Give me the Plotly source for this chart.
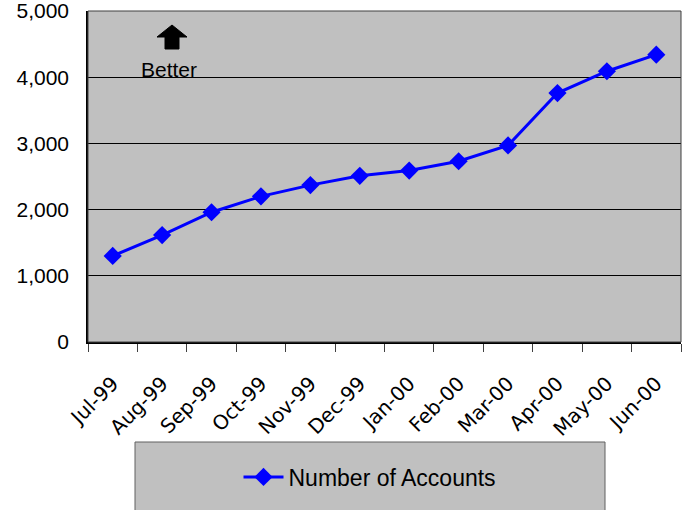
import plotly.graph_objects as go

months = ["Jul-99", "Aug-99", "Sep-99", "Oct-99", "Nov-99", "Dec-99",
          "Jan-00", "Feb-00", "Mar-00", "Apr-00", "May-00", "Jun-00"]
accounts = [1300, 1615, 1960, 2200, 2370, 2510, 2590, 2730, 2970, 3760, 4090, 4340]
y_ticks = [0, 1000, 2000, 3000, 4000, 5000]
y_labels = ["0", "1,000", "2,000", "3,000", "4,000", "5,000"]

W, H = 688, 510
L, R, T, B = 88, 681, 11, 342
pw, ph = R - L, B - T

def px(x):
    return (x - L) / pw

def py(y):
    return (B - y) / ph

narrow = "Liberation Sans Narrow, Arial Narrow, Liberation Sans, sans-serif"

fig = go.Figure()
fig.add_trace(go.Scatter(
    x=months, y=accounts, mode="lines+markers", name="Number of Accounts",
    line=dict(color="#0000FF", width=3),
    marker=dict(symbol="diamond", size=14, color="#0000FF"),
))

shapes = [
    # legend box
    dict(type="rect", xref="paper", yref="paper",
         x0=px(135), x1=px(605), y0=py(515), y1=py(442),
         fillcolor="#C0C0C0", line=dict(color="#606060", width=1), layer="below"),
    # arrow
    dict(type="path", xref="paper", yref="paper",
         path=(f"M {px(157)} {py(37)} L {px(172)} {py(25)} L {px(187)} {py(37)} "
               f"L {px(179)} {py(37)} L {px(179)} {py(49)} L {px(165)} {py(49)} "
               f"L {px(165)} {py(37)} Z"),
         fillcolor="black", line=dict(color="black", width=1)),
]

fig.update_layout(
    width=W, height=H,
    margin=dict(l=L, r=W - R, t=T, b=H - B, autoexpand=False),
    paper_bgcolor="white", plot_bgcolor="#C0C0C0",
    showlegend=True,
    legend=dict(x=px(370), y=py(477), xanchor="center", yanchor="middle",
                bgcolor="rgba(0,0,0,0)", font=dict(family=narrow, size=23, color="black"),
                itemwidth=40),
    shapes=shapes,
    annotations=[dict(text="Better", xref="paper", yref="paper",
                      x=px(169), y=py(69), xanchor="center", yanchor="middle",
                      showarrow=False,
                      font=dict(family=narrow, size=21, color="black"))],
    xaxis=dict(
        type="category", tickangle=-45, tickson="boundaries",
        ticks="outside", ticklen=8, tickcolor="#404040",
        showgrid=False, showline=True, linecolor="black", linewidth=2,
        mirror=False, tickfont=dict(family="DejaVu Sans", size=20, color="black"),
        range=[-0.5, 11.5], automargin=False, ticklabelstandoff=20,
    ),
    yaxis=dict(
        range=[0, 5000], tickvals=y_ticks, ticktext=y_labels,
        showgrid=True, gridcolor="black", gridwidth=1,
        showline=True, linecolor="black", linewidth=1.5, mirror=False,
        ticks="", tickfont=dict(family=narrow, size=21, color="black"),
        zeroline=False, automargin=False, ticklabelstandoff=13,
        ticklabeloverflow="allow",
    ),
)
# right/top border of plot area
fig.add_shape(type="rect", xref="paper", yref="paper", x0=0, x1=1, y0=0, y1=1,
              line=dict(color="#404040", width=1), fillcolor="rgba(0,0,0,0)")

fig.write_html("out.html", config={"displayModeBar": False},
               post_script="document.body.style.margin='0';")
